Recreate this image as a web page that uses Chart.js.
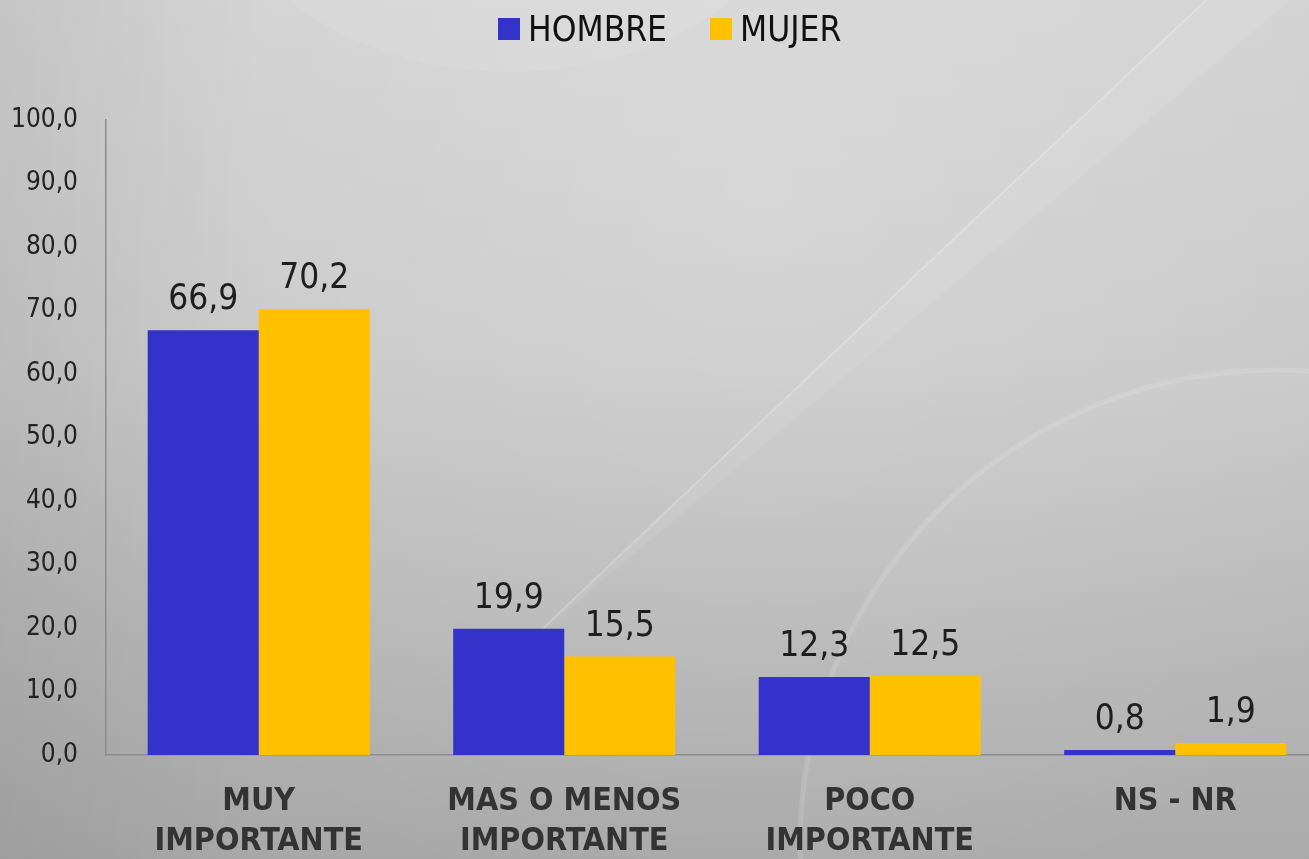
<!DOCTYPE html>
<html>
<head>
<meta charset="utf-8">
<script src="https://cdn.jsdelivr.net/npm/chart.js@4.4.0/dist/chart.umd.min.js"></script>
<style>
  html, body { margin: 0; padding: 0; overflow: hidden; background: #c4c4c4; }
  canvas { display: block; }
</style>
</head>
<body>
<canvas id="chart" width="1340" height="885"></canvas>
<script>
// data
const categories = [['MUY', 'IMPORTANTE'], ['MAS O MENOS', 'IMPORTANTE'], ['POCO', 'IMPORTANTE'], 'NS - NR'];
const hombre = [66.9, 19.9, 12.3, 0.8];
const mujer = [70.2, 15.5, 12.5, 1.9];
const seriesNames = ['HOMBRE', 'MUJER'];
const yTickLabels = ['0,0', '10,0', '20,0', '30,0', '40,0', '50,0', '60,0', '70,0', '80,0', '90,0', '100,0'];

const FONT = "'DejaVu Sans Condensed', 'DejaVu Sans', sans-serif";
const BLUE = '#3333cc';
const YELLOW = '#ffc000';

// grey swoosh background, like the slide template
const backdrop = {
  id: 'backdrop',
  beforeDraw(chart) {
    const { ctx, width, height } = chart;
    ctx.save();
    let g = ctx.createLinearGradient(0, 0, 0, height);
    g.addColorStop(0, '#d2d2d2');
    g.addColorStop(0.4, '#c8c8c8');
    g.addColorStop(1, '#a6a6a6');
    ctx.fillStyle = g;
    ctx.fillRect(0, 0, width, height);

    // soft light in the upper middle
    let r = ctx.createRadialGradient(760, 200, 0, 760, 200, 750);
    r.addColorStop(0, 'rgba(255,255,255,0.2)');
    r.addColorStop(1, 'rgba(255,255,255,0)');
    ctx.fillStyle = r;
    ctx.fillRect(0, 0, width, height);

    // darker left edge
    let l = ctx.createLinearGradient(0, 0, 260, 0);
    l.addColorStop(0, 'rgba(0,0,0,0.06)');
    l.addColorStop(1, 'rgba(0,0,0,0)');
    ctx.fillStyle = l;
    ctx.fillRect(0, 0, width, height);

    // pale ellipse behind the legend
    ctx.beginPath();
    ctx.ellipse(510, -150, 300, 222, 0, 0, Math.PI * 2);
    ctx.fillStyle = 'rgba(255,255,255,0.09)';
    ctx.fill();

    // diagonal light band with a thin edge
    ctx.beginPath();
    ctx.moveTo(1206, 0);
    ctx.quadraticCurveTo(930, 260, 520, 650);
    ctx.quadraticCurveTo(900, 330, 1290, 0);
    ctx.closePath();
    ctx.fillStyle = 'rgba(255,255,255,0.07)';
    ctx.fill();
    ctx.beginPath();
    ctx.moveTo(1206, 0);
    ctx.quadraticCurveTo(930, 260, 520, 650);
    ctx.strokeStyle = 'rgba(255,255,255,0.2)';
    ctx.lineWidth = 2;
    ctx.stroke();

    // large circle, lower right
    ctx.beginPath();
    ctx.arc(1275, 845, 475, 0, Math.PI * 2);
    ctx.fillStyle = 'rgba(255,255,255,0.04)';
    ctx.fill();
    ctx.strokeStyle = 'rgba(255,255,255,0.13)';
    ctx.lineWidth = 5;
    ctx.stroke();
    ctx.restore();
  }
};

// legend drawn by hand: square, small gap, label
const topLegend = {
  id: 'topLegend',
  afterDraw(chart) {
    const { ctx } = chart;
    ctx.save();
    ctx.font = `35px ${FONT}`;
    ctx.textAlign = 'left';
    ctx.textBaseline = 'alphabetic';
    let x = 498;
    chart.data.datasets.forEach(ds => {
      ctx.fillStyle = ds.backgroundColor;
      ctx.fillRect(x, 18, 22, 22);
      ctx.fillStyle = '#111';
      ctx.fillText(ds.label, x + 30, 41);
      x += 30 + ctx.measureText(ds.label).width + 43;
    });
    ctx.restore();
  }
};

// value above each bar
const valueLabels = {
  id: 'valueLabels',
  afterDatasetsDraw(chart) {
    const { ctx } = chart;
    ctx.save();
    ctx.font = `35px ${FONT}`;
    ctx.fillStyle = '#1e1e1e';
    ctx.textAlign = 'center';
    ctx.textBaseline = 'alphabetic';
    chart.data.datasets.forEach((ds, i) => {
      chart.getDatasetMeta(i).data.forEach((bar, j) => {
        ctx.fillText(ds.data[j].toFixed(1).replace('.', ','), bar.x, bar.y - 21);
      });
    });
    ctx.restore();
  }
};

new Chart(document.getElementById('chart'), {
  type: 'bar',
  data: {
    labels: categories,
    datasets: [
      { label: seriesNames[0], data: hombre, backgroundColor: BLUE },
      { label: seriesNames[1], data: mujer, backgroundColor: YELLOW }
    ]
  },
  options: {
    responsive: false,
    animation: false,
    datasets: { bar: { barPercentage: 1, categoryPercentage: 0.727 } },
    layout: { padding: { left: 10, top: 120, right: 12, bottom: 0 } },
    plugins: { legend: { display: false }, tooltip: { enabled: false } },
    scales: {
      x: {
        grid: { display: false, drawTicks: false },
        border: { display: true, color: '#8c8c8c', width: 1.5 },
        ticks: {
          color: '#333',
          padding: 26,
          maxRotation: 0,
          autoSkip: false,
          font: { family: FONT, size: 32, weight: 'bold', lineHeight: 1.27 }
        },
        afterFit: s => { s.height = 130; }
      },
      y: {
        min: 0,
        max: 100,
        grid: { display: false, drawTicks: false },
        border: { display: true, color: '#8c8c8c', width: 1.5 },
        ticks: {
          stepSize: 10,
          color: '#222',
          padding: 28,
          font: { family: FONT, size: 26 },
          callback: (v, i) => yTickLabels[i]
        },
        afterFit: s => { s.width = 96; }
      }
    }
  },
  plugins: [backdrop, topLegend, valueLabels]
});
</script>
</body>
</html>
